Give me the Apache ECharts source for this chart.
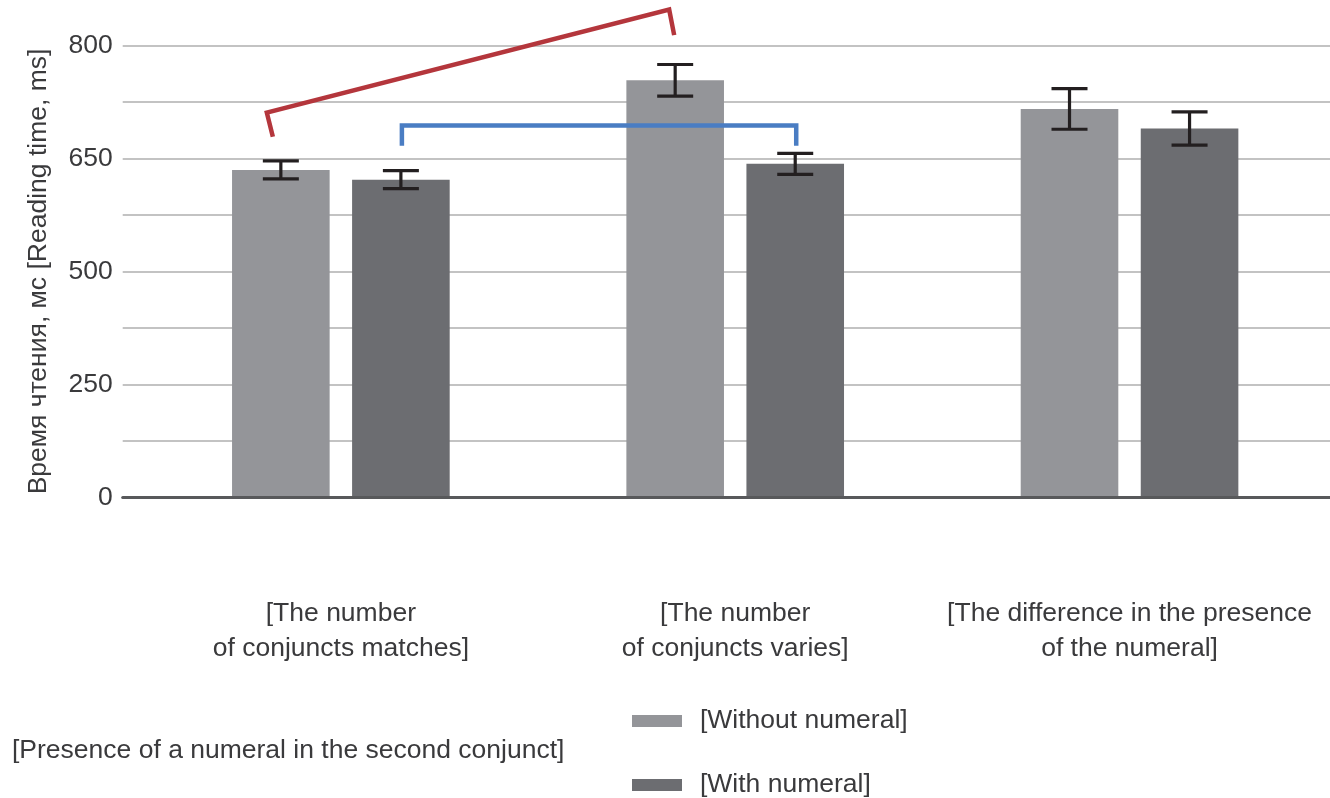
<!DOCTYPE html>
<html>
<head>
<meta charset="utf-8">
<title>Reading time</title>
<script src="https://cdn.jsdelivr.net/npm/echarts/dist/echarts.min.js"></script>
<style>
  html, body { margin: 0; padding: 0; background: #ffffff; }
  #chart { width: 1330px; height: 798px; }
</style>
</head>
<body>
<div id="chart"></div>
<script>
// ---- data ----
const categories = [
  '[The number\nof conjuncts matches]',
  '[The number\nof conjuncts varies]',
  '[The difference in the presence\nof the numeral]'
];
const seriesNames = ['[Without numeral]', '[With numeral]'];
const withoutNumeral = [635, 754, 716];      // mean reading time, ms
const withNumeral = [622, 643, 690];
const withoutNumeralErr = [12, 21, 27];      // error bar half-length, ms
const withNumeralErr = [12, 14, 22];
const yTickLabels = [0, 250, 500, 650, 800]; // equally spaced ticks on the axis
const yAxisName = 'Время чтения, мс [Reading time, ms]';
const legendTitle = '[Presence of a numeral in the second conjunct]';
// comparison brackets: bar [group, series] -> bar [group, series], leg ends in ms
const bracketFrom = [[0, 0], [0, 1]];
const bracketTo = [[1, 0], [1, 1]];
const bracketLegs = [[679, 711, 848, 814], [667, 694, 694, 667]];

// ---- scale: the axis places its tick labels at equal steps ----
function toAxis(ms) {
  const t = yTickLabels;
  let i = 0;
  while (i < t.length - 2 && ms > t[i + 1]) i++;
  return i + (ms - t[i]) / (t[i + 1] - t[i]);
}

const FONT = '"Liberation Sans", Arial, sans-serif';
const FS = 26.5;
const TEXT = '#3a3a3c';
const LIGHT = '#949599';
const DARK = '#6c6d71';
const BAR_W = 0.2475;   // bar width as a share of the category band
const BAR_GAP = 0.23;   // gap between the two bars, as a share of bar width

function barCenterX(api, group, side) {
  const band = api.size([1, 0])[0];
  const w = band * BAR_W;
  const c = api.coord([group, 0])[0];
  return c + (side === 0 ? -1 : 1) * w * (1 + BAR_GAP) / 2;
}

function errorSeries(means, errs, side) {
  return {
    type: 'custom',
    xAxisIndex: 1,
    yAxisIndex: 1,
    z: 4,
    silent: true,
    data: means.map((m, i) => [i, toAxis(m - errs[i]), toAxis(m + errs[i])]),
    renderItem: function (params, api) {
      const g = api.value(0);
      const x = barCenterX(api, g, side);
      const yLo = api.coord([g, api.value(1)])[1];
      const yHi = api.coord([g, api.value(2)])[1];
      const half = 18;
      const st = { stroke: '#231f20', lineWidth: 3.2 };
      return {
        type: 'group',
        children: [
          { type: 'line', shape: { x1: x, y1: yLo, x2: x, y2: yHi }, style: st },
          { type: 'line', shape: { x1: x - half, y1: yHi, x2: x + half, y2: yHi }, style: st },
          { type: 'line', shape: { x1: x - half, y1: yLo, x2: x + half, y2: yLo }, style: st }
        ]
      };
    }
  };
}

// hand-drawn look of the brackets: colour and a slight lean of each leg (px)
const bracketStyles = [
  { color: '#b4363c', lean: [-8, -14, -6, -1] },
  { color: '#4a7dc3', lean: [1, 1, 1, 1] }
];

const option = {
  animation: false,
  backgroundColor: '#ffffff',
  grid: [
    { left: 122.7, right: 0, top: 45.7, bottom: 300.7, outerBoundsMode: 'none', containLabel: false },
    { left: 143.7, right: 3.3, top: 45.7, bottom: 300.7, outerBoundsMode: 'none', containLabel: false }
  ],
  xAxis: [
    {
      gridIndex: 0, type: 'value', min: 0, max: 1, z: 5,
      axisLine: { show: true, lineStyle: { color: '#58595b', width: 3 } },
      axisTick: { show: false }, axisLabel: { show: false }, splitLine: { show: false }
    },
    {
      gridIndex: 1, type: 'category', data: categories,
      axisLine: { show: false }, axisTick: { show: false },
      axisLabel: {
        interval: 0, margin: 99, fontSize: FS, lineHeight: 35,
        fontFamily: FONT, color: TEXT, align: 'center', hideOverlap: false
      }
    }
  ],
  yAxis: [
    {
      gridIndex: 0, type: 'value', min: 0, max: yTickLabels.length - 1, interval: 0.5,
      axisLine: { show: false }, axisTick: { show: false },
      splitLine: { show: true, lineStyle: { color: '#c3c3c3', width: 2 } },
      axisLabel: {
        margin: 10, fontSize: FS, fontFamily: FONT, color: TEXT,
        formatter: function (v) {
          return Number.isInteger(v) ? String(yTickLabels[v]) : '';
        }
      },
      name: yAxisName, nameLocation: 'middle', nameGap: 71, nameRotate: 90,
      nameTextStyle: { fontSize: FS, fontFamily: FONT, color: TEXT }
    },
    { gridIndex: 1, type: 'value', min: 0, max: yTickLabels.length - 1, show: false }
  ],
  legend: {
    data: seriesNames, orient: 'vertical', left: 632, top: 706, height: 120, padding: 0,
    icon: 'rect', itemWidth: 50, itemHeight: 12, itemGap: 34,
    textStyle: { fontSize: FS, lineHeight: 30, fontFamily: FONT, color: TEXT, padding: [0, 0, 0, 13] }
  },
  graphic: [
    {
      type: 'text', left: 12, top: 737,
      style: { text: legendTitle, font: FS + 'px ' + FONT, fill: TEXT }
    }
  ],
  series: [
    {
      name: seriesNames[0], type: 'bar', xAxisIndex: 1, yAxisIndex: 1,
      barWidth: (BAR_W * 100) + '%', barGap: (BAR_GAP * 100) + '%',
      itemStyle: { color: LIGHT },
      data: withoutNumeral.map(toAxis)
    },
    {
      name: seriesNames[1], type: 'bar', xAxisIndex: 1, yAxisIndex: 1,
      barWidth: (BAR_W * 100) + '%', barGap: (BAR_GAP * 100) + '%',
      itemStyle: { color: DARK },
      data: withNumeral.map(toAxis)
    },
    errorSeries(withoutNumeral, withoutNumeralErr, 0),
    errorSeries(withNumeral, withNumeralErr, 1),
    {
      type: 'custom', xAxisIndex: 1, yAxisIndex: 1, z: 6, clip: false, silent: true,
      data: bracketLegs.map((_, i) => [i, 0]),
      renderItem: function (params, api) {
        const i = params.dataIndex;
        const f = bracketFrom[i], t = bracketTo[i], legs = bracketLegs[i];
        const s = bracketStyles[i];
        const x1 = barCenterX(api, f[0], f[1]);
        const x2 = barCenterX(api, t[0], t[1]);
        const y = legs.map(ms => api.coord([0, toAxis(ms)])[1]);
        return {
          type: 'polyline',
          shape: { points: [
            [x1 + s.lean[0], y[0]], [x1 + s.lean[1], y[1]],
            [x2 + s.lean[2], y[2]], [x2 + s.lean[3], y[3]]
          ] },
          style: { stroke: s.color, lineWidth: 4.5, fill: null, lineJoin: 'miter' }
        };
      }
    }
  ]
};

const chart = echarts.init(document.getElementById('chart'), null, { renderer: 'canvas' });
chart.setOption(option);
</script>
</body>
</html>
